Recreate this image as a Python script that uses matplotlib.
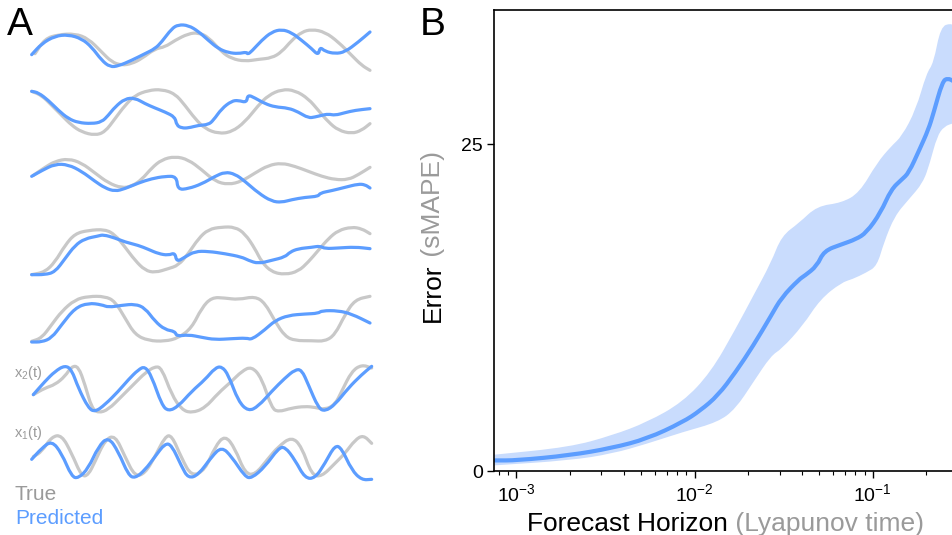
import numpy as np
import matplotlib
matplotlib.use('Agg')
import matplotlib.pyplot as plt
from matplotlib.path import Path
from matplotlib.patches import PathPatch

plt.rcParams['font.family'] = ['Liberation Sans', 'DejaVu Sans']
plt.rcParams['mathtext.fontset'] = 'custom'
plt.rcParams['mathtext.rm'] = 'Liberation Sans'
plt.rcParams['mathtext.it'] = 'Liberation Sans:italic'

GRAY = '#c8c8c8'
BLUE = '#5c9dff'
BAND = '#c9dcfd'
LABEL_GRAY = '#9a9a9a'

# ---- panel A: sample trajectories (arbitrary units) ----
t_r1_true = [30, 60, 100, 150, 190, 230, 260, 290, 320, 350, 390, 420, 450, 490, 520, 550, 590, 620, 660, 700, 740, 770, 800, 830, 860, 900, 940, 980, 1010, 1035]
y_r1_true = [95, 50, 38, 35, 50, 90, 120, 130, 125, 110, 80, 75, 55, 35, 32, 45, 90, 110, 118, 112, 108, 90, 55, 30, 22, 30, 60, 100, 130, 145]
t_r1_pred = [20, 50, 90, 130, 170, 200, 230, 255, 280, 320, 360, 390, 410, 440, 460, 490, 520, 550, 580, 610, 640, 665, 668, 680, 710, 740, 770, 800, 830, 860, 880, 885, 900, 930, 960, 1000, 1035]
y_r1_pred = [98, 65, 42, 38, 50, 75, 115, 135, 132, 115, 95, 80, 60, 20, 8, 10, 28, 55, 80, 92, 95, 90, 97, 88, 55, 30, 22, 32, 55, 80, 100, 75, 88, 95, 90, 60, 30]

t_r2_true = [20, 50, 80, 110, 140, 170, 210, 240, 270, 300, 330, 370, 410, 450, 480, 510, 540, 580, 620, 660, 700, 730, 770, 810, 850, 880, 910, 940, 980, 1010, 1035]
y_r2_true = [28, 40, 70, 100, 130, 150, 160, 150, 110, 70, 40, 25, 22, 35, 70, 110, 140, 155, 150, 120, 70, 40, 22, 25, 50, 85, 120, 145, 155, 145, 125]
t_r2_pred = [20, 40, 70, 100, 130, 160, 200, 230, 250, 270, 300, 330, 360, 390, 420, 450, 455, 470, 490, 520, 550, 565, 590, 620, 640, 665, 668, 690, 720, 750, 790, 820, 850, 870, 890, 910, 930, 960, 990, 1035]
y_r2_pred = [28, 32, 55, 85, 110, 122, 125, 120, 100, 75, 50, 48, 65, 78, 90, 105, 130, 138, 138, 130, 128, 115, 80, 57, 55, 62, 38, 48, 65, 75, 78, 90, 108, 105, 100, 96, 100, 92, 85, 80]

t_r3_true = [25, 60, 90, 130, 170, 210, 250, 290, 320, 350, 380, 410, 450, 490, 530, 570, 610, 650, 690, 730, 770, 810, 850, 890, 930, 970, 1000, 1035]
y_r3_true = [82, 58, 40, 32, 45, 75, 105, 120, 115, 95, 60, 35, 25, 35, 65, 100, 110, 100, 75, 52, 45, 55, 70, 85, 95, 95, 80, 58]
t_r3_pred = [20, 50, 90, 130, 170, 210, 240, 270, 300, 340, 380, 420, 455, 458, 490, 530, 570, 600, 630, 660, 700, 740, 770, 800, 840, 880, 885, 920, 960, 1000, 1020, 1035]
y_r3_pred = [85, 68, 48, 50, 70, 100, 120, 130, 122, 105, 92, 85, 85, 125, 122, 108, 85, 72, 78, 100, 135, 160, 163, 155, 148, 145, 135, 128, 118, 108, 110, 120]

t_r4_true = [20, 60, 90, 120, 150, 190, 240, 270, 300, 330, 360, 390, 430, 460, 490, 520, 550, 590, 630, 660, 690, 710, 740, 780, 820, 850, 880, 910, 940, 980, 1010, 1035]
y_r4_true = [158, 150, 120, 70, 35, 25, 22, 38, 75, 115, 145, 152, 140, 130, 95, 50, 22, 15, 15, 35, 80, 120, 150, 158, 148, 120, 85, 50, 25, 15, 20, 35]
t_r4_pred = [20, 60, 90, 120, 150, 180, 220, 235, 270, 300, 340, 370, 400, 430, 450, 455, 480, 510, 550, 600, 650, 670, 700, 740, 780, 795, 820, 860, 885, 900, 940, 990, 1035]
y_r4_pred = [158, 158, 150, 110, 70, 50, 42, 38, 48, 60, 70, 82, 95, 100, 92, 120, 105, 88, 88, 95, 105, 115, 125, 115, 105, 90, 80, 76, 72, 80, 78, 75, 80]

t_r5_true = [20, 50, 80, 110, 150, 190, 240, 270, 300, 330, 370, 420, 460, 500, 530, 560, 600, 640, 690, 720, 750, 780, 810, 860, 900, 930, 960, 990, 1035]
y_r5_true = [160, 150, 110, 70, 35, 25, 25, 40, 90, 140, 158, 160, 150, 120, 60, 28, 30, 35, 25, 45, 100, 145, 158, 158, 160, 140, 80, 35, 25]
t_r5_pred = [20, 50, 80, 110, 150, 190, 230, 250, 290, 330, 360, 390, 420, 450, 455, 490, 530, 570, 620, 665, 680, 720, 750, 790, 840, 880, 890, 940, 980, 1035]
y_r5_pred = [162, 162, 150, 110, 60, 45, 50, 58, 52, 48, 60, 100, 125, 130, 145, 140, 148, 155, 152, 150, 155, 125, 98, 82, 78, 76, 68, 68, 78, 105]

t_x2_true = [85, 120, 150, 180, 200, 220, 240, 260, 280, 310, 350, 390, 420, 450, 470, 500, 530, 560, 600, 640, 680, 710, 740, 770, 800, 820, 860, 900, 930, 960, 990, 1010, 1040, 1070, 1100]
y_x2_true = [110, 90, 80, 55, 25, 25, 80, 150, 165, 155, 115, 75, 45, 25, 30, 110, 155, 165, 150, 105, 70, 40, 25, 60, 150, 162, 150, 145, 148, 155, 140, 100, 40, 20, 30]
t_x2_pred = [85, 120, 150, 180, 200, 220, 250, 270, 300, 340, 370, 400, 420, 440, 470, 490, 520, 560, 600, 630, 650, 670, 700, 730, 760, 800, 840, 870, 890, 910, 940, 960, 990, 1030, 1070, 1100]
y_x2_pred = [110, 70, 40, 22, 35, 90, 150, 162, 140, 100, 65, 35, 25, 55, 140, 160, 145, 100, 65, 30, 25, 50, 130, 160, 145, 100, 60, 35, 35, 80, 150, 160, 140, 90, 50, 25]

t_x1_true = [85, 110, 140, 170, 200, 230, 250, 270, 300, 330, 360, 390, 420, 450, 480, 500, 530, 560, 600, 630, 660, 690, 720, 750, 790, 820, 860, 890, 920, 950, 990, 1020, 1050, 1075, 1100]
y_x1_true = [110, 95, 50, 45, 100, 170, 165, 125, 60, 45, 110, 170, 160, 110, 50, 45, 115, 170, 150, 80, 45, 85, 160, 165, 115, 80, 50, 80, 165, 170, 130, 100, 60, 45, 70]
t_x1_pred = [80, 110, 140, 170, 200, 220, 250, 280, 310, 340, 370, 390, 420, 450, 480, 500, 530, 550, 580, 620, 650, 680, 720, 740, 780, 820, 840, 870, 900, 930, 960, 990, 1010, 1040, 1070, 1100]
y_x1_pred = [118, 85, 62, 100, 170, 175, 145, 80, 50, 95, 165, 175, 150, 110, 70, 75, 140, 175, 165, 110, 80, 110, 170, 175, 140, 85, 80, 120, 175, 175, 130, 75, 85, 150, 180, 178]

rows = [
    (t_r1_true, y_r1_true, t_r1_pred, y_r1_pred),
    (t_r2_true, y_r2_true, t_r2_pred, y_r2_pred),
    (t_r3_true, y_r3_true, t_r3_pred, y_r3_pred),
    (t_r4_true, y_r4_true, t_r4_pred, y_r4_pred),
    (t_r5_true, y_r5_true, t_r5_pred, y_r5_pred),
    (t_x2_true, y_x2_true, t_x2_pred, y_x2_pred),
    (t_x1_true, y_x1_true, t_x1_pred, y_x1_pred),
]
# frame of each row in figure pixels: left, top, width, height
row_boxes = [(25, 22, 355, 60), (25, 82, 355, 60), (25, 148, 355, 65),
             (25, 222, 355, 62), (25, 288, 355, 62), (5, 358, 375, 62),
             (5, 420, 375, 112)]

# ---- panel B: forecast error vs horizon ----
horizon_mean = [0.00076, 0.001, 0.00199, 0.00344, 0.00542, 0.00857, 0.01077, 0.01352, 0.01698, 0.02133, 0.02685, 0.03076, 0.03864, 0.0414, 0.04864, 0.05321, 0.06683, 0.08035, 0.09205, 0.11066, 0.12677, 0.14555, 0.15922, 0.18281, 0.20512, 0.21928, 0.24604, 0.26363, 0.2858]
err_mean = [0.81, 0.81, 1.2, 1.76, 2.47, 3.74, 4.63, 5.78, 7.56, 9.59, 11.88, 13.28, 14.68, 14.94, 15.7, 16.85, 17.35, 17.74, 18.24, 19.77, 21.55, 22.32, 22.82, 24.6, 26.13, 27.4, 29.82, 30.08, 29.82]

horizon_hi = [0.000753, 0.001986, 0.003436, 0.00542, 0.00857, 0.01233, 0.01698, 0.02133, 0.02685, 0.03076, 0.03864, 0.04864, 0.06683, 0.08414, 0.10568, 0.12677, 0.14555, 0.17458, 0.20045, 0.21928, 0.24044, 0.27542, 0.2858]
err_hi = [1.25, 1.83, 2.72, 3.74, 5.27, 7.56, 10.87, 13.41, 15.95, 17.99, 19.0, 20.28, 20.53, 21.3, 23.59, 24.86, 25.62, 27.66, 30.46, 31.22, 34.02, 34.28, 34.0]

horizon_lo = [0.000753, 0.001986, 0.003436, 0.00542, 0.00857, 0.01352, 0.01698, 0.02133, 0.02685, 0.03076, 0.04046, 0.05082, 0.06683, 0.07674, 0.09205, 0.10568, 0.11561, 0.13271, 0.15922, 0.19143, 0.20941, 0.22961, 0.25177, 0.2858]
err_lo = [0.43, 0.81, 1.32, 2.09, 2.98, 3.74, 4.76, 6.79, 8.83, 9.34, 11.12, 13.16, 14.43, 14.68, 15.19, 15.7, 17.5, 19.52, 20.79, 22.06, 23.59, 25.62, 26.39, 26.64]


def smooth_verts(x, y, logx=False):
    # quadratic bezier through segment midpoints, read points act as control points
    x = np.asarray(x, float)
    y = np.asarray(y, float)
    if logx:
        mx = np.sqrt(x[:-1] * x[1:])
    else:
        mx = (x[:-1] + x[1:]) / 2
    my = (y[:-1] + y[1:]) / 2
    verts = [(x[0], y[0]), (mx[0], my[0])]
    codes = [Path.LINETO, Path.LINETO]
    for i in range(1, len(x) - 1):
        verts += [(x[i], y[i]), (mx[i], my[i])]
        codes += [Path.CURVE3, Path.CURVE3]
    verts.append((x[-1], y[-1]))
    codes.append(Path.LINETO)
    return verts, codes


def smooth_line(ax, x, y, logx=False, **kw):
    verts, codes = smooth_verts(x, y, logx)
    codes[0] = Path.MOVETO
    ax.add_patch(PathPatch(Path(verts, codes), fill=False, capstyle='round',
                           joinstyle='round', **kw))


W, H = 953, 535
fig = plt.figure(figsize=(W / 100, H / 100), dpi=100)


def fbox(l, t, w, h):
    return [l / W, 1 - (t + h) / H, w / W, h / H]


# panel A
for (tt, yt, tp, yp), (l, t, w, h) in zip(rows, row_boxes):
    ax = fig.add_axes(fbox(l, t, w, h))
    smooth_line(ax, tt, yt, edgecolor=GRAY, lw=2.3, clip_on=False)
    smooth_line(ax, tp, yp, edgecolor=BLUE, lw=2.3, clip_on=False)
    ax.set_xlim(0, w * 3)
    ax.set_ylim(h * 3, 0)
    ax.axis('off')

fig.text(7 / W, 1 - 25 / H, 'A', fontsize=28, va='center', ha='left')
fig.text(14 / W, 1 - 373 / H, 'x$_2$(t)', fontsize=10.5, color=LABEL_GRAY, va='center')
fig.text(14 / W, 1 - 433 / H, 'x$_1$(t)', fontsize=10.5, color=LABEL_GRAY, va='center')
fig.text(15 / W, 1 - 494 / H, 'True', fontsize=15, color=LABEL_GRAY, va='center')
fig.text(15 / W, 1 - 519 / H, 'Predicted', fontsize=15, color=BLUE, va='center')

# panel B
axb = fig.add_axes(fbox(494.5, 9.9, W - 494.5 + 1, 471 - 9.9))
hv, hc = smooth_verts(horizon_hi, err_hi, logx=True)
lv, lc = smooth_verts(horizon_lo[::-1], err_lo[::-1], logx=True)
hc[0] = Path.MOVETO
band = Path(hv + lv + [hv[0]], hc + lc + [Path.CLOSEPOLY])
axb.add_patch(PathPatch(band, facecolor=BAND, edgecolor='none', lw=0))
smooth_line(axb, horizon_mean, err_mean, logx=True, edgecolor=BLUE, lw=3)
axb.set_xscale('log')
axb.set_xlim(7.53e-4, 0.2858)
axb.set_ylim(0, 35.3)
axb.set_yticks([0, 25])
axb.tick_params(axis='both', which='major', labelsize=14, length=5, width=1)
axb.tick_params(axis='x', which='minor', length=3, width=0.8)
for s in ['left', 'top', 'bottom']:
    axb.spines[s].set_linewidth(1.2)
axb.spines['right'].set_visible(False)

fig.text(420 / W, 1 - 25 / H, 'B', fontsize=28, va='center', ha='left')

# two-colour axis labels
fig.canvas.draw()
r = fig.canvas.get_renderer()
t1 = fig.text(527 / W, 1 - 531 / H, 'Forecast Horizon', fontsize=19, va='baseline')
bb = t1.get_window_extent(r)
fig.text(bb.x1 / W, 1 - 531 / H, ' (Lyapunov time)', fontsize=19, color=LABEL_GRAY, va='baseline')
t2 = fig.text(433 / W, 1 - 322 / H, 'Error', fontsize=19, rotation=90, va='bottom', ha='center')
bb = t2.get_window_extent(r)
fig.text(433 / W, bb.y1 / H, ' (sMAPE)', fontsize=19, rotation=90, va='bottom', ha='center',
         color=LABEL_GRAY)

fig.savefig('out.png', dpi=100)
